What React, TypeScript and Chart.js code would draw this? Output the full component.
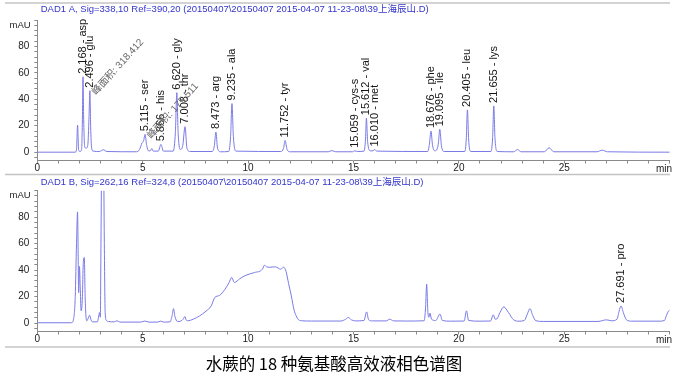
import React, { useEffect, useRef } from "react";
import { Chart, registerables } from "chart.js";

Chart.register(...registerables);

// ---------- data ----------
const titleA = "DAD1 A, Sig=338,10 Ref=390,20 (20150407\\20150407 2015-04-07 11-23-08\\39上海辰山.D)";
const titleB = "DAD1 B, Sig=262,16 Ref=324,8 (20150407\\20150407 2015-04-07 11-23-08\\39上海辰山.D)";
const caption = "水蕨的 18 种氨基酸高效液相色谱图";
const yUnit = "mAU";
const xUnit = "min";
const xMajorTicks = [0, 5, 10, 15, 20, 25];
const yMajorTicks = [0, 20, 40, 60, 80];

// [time (min), signal (mAU)]
const traceA: [number, number][] = [
  [0, 0], [1.8, 0], [1.86, 2], [1.91, 20.5], [1.96, 2], [2.02, 0.5],
  [2.1, 2], [2.14, 25], [2.168, 57], [2.2, 25], [2.25, 4], [2.32, 3],
  [2.4, 6], [2.45, 25], [2.496, 46.5], [2.53, 20], [2.58, 3], [2.65, 0.8],
  [2.95, 0.5], [3.13, 1.8], [3.3, 0.5], [4.7, 0.3], [4.85, 2], [4.97, 7],
  [5.04, 8.5], [5.115, 13.5], [5.18, 6], [5.28, 1], [5.36, 1], [5.43, 2.8],
  [5.5, 0.8], [5.74, 0.8], [5.866, 5.9], [5.98, 0.8], [6.45, 0.8], [6.55, 15],
  [6.62, 45], [6.68, 15], [6.78, 2], [6.9, 5], [7.008, 19.3], [7.1, 3],
  [7.25, 0.5], [8.3, 0.5], [8.4, 5], [8.473, 15.2], [8.55, 3], [8.7, 0.3],
  [9.08, 0.5], [9.17, 12], [9.235, 36.8], [9.3, 12], [9.42, 0.8], [11.55, 0.5],
  [11.68, 3], [11.752, 8.9], [11.85, 2], [12.0, 0.3], [13.8, 0.3], [13.97, 1.2],
  [14.15, 0.3], [14.95, 0.3], [15.059, 1.0], [15.2, 0.5], [15.5, 0.8], [15.57, 10],
  [15.612, 25.7], [15.67, 8], [15.8, 1], [15.92, 1], [16.01, 2], [16.1, 0.8],
  [18.52, 0.5], [18.6, 6], [18.676, 16], [18.75, 5], [18.88, 1], [19.02, 6],
  [19.095, 17.3], [19.17, 5], [19.3, 0.5], [20.28, 0.5], [20.35, 10], [20.405, 32],
  [20.46, 10], [20.56, 0.5], [21.52, 0.5], [21.6, 11], [21.655, 35], [21.71, 11],
  [21.82, 0.5], [22.6, 0.3], [22.78, 2], [22.95, 0.3], [24.05, 0.3], [24.28, 3.3],
  [24.5, 0.3], [26.55, 0.3], [26.8, 1.5], [27.05, 0.3], [30, 0],
];

const traceB: [number, number][] = [
  [0, 0.3], [1.62, 0.3], [1.72, 3], [1.8, 20], [1.86, 60], [1.91, 84],
  [1.94, 50], [1.96, 23], [2.0, 42.8], [2.04, 25], [2.08, 9.3], [2.14, 20],
  [2.18, 45], [2.23, 49.6], [2.27, 20], [2.31, 5], [2.35, 1.7], [2.42, 4],
  [2.48, 6], [2.54, 3], [2.62, 1], [2.85, 1], [2.92, 6], [2.95, 8],
  [2.99, 4.5], [3.02, 60], [3.06, 140], [3.1, 190], [3.14, 140], [3.18, 60],
  [3.22, 8], [3.28, 2], [3.4, 1.2], [3.65, 1], [3.78, 1.8], [3.92, 0.8],
  [4.9, 0.8], [5.1, 1.6], [5.3, 0.8], [5.7, 0.8], [5.85, 1.5], [6.0, 0.8],
  [6.3, 1], [6.4, 6], [6.46, 11], [6.53, 5], [6.65, 1.3], [6.8, 1.5],
  [6.92, 3], [7.0, 5], [7.06, 2.5], [7.12, 1.8], [7.4, 3], [7.7, 5.5],
  [8.0, 9], [8.25, 13], [8.42, 19.4], [8.65, 21], [8.9, 25.5], [9.1, 30.7],
  [9.22, 34.5], [9.35, 30.7], [9.6, 33.5], [9.9, 36.2], [10.3, 38.2], [10.68, 40.7],
  [10.78, 43.8], [10.88, 42.5], [11.0, 42.2], [11.3, 42.5], [11.55, 40.7], [11.68, 42.3],
  [11.8, 39], [11.92, 30], [12.05, 20.6], [12.18, 10], [12.28, 5.5], [12.4, 2.5],
  [12.55, 1.8], [13.0, 1.6], [14.4, 1.6], [14.63, 3], [14.76, 4.3], [14.9, 2.5],
  [15.1, 1.7], [15.5, 2], [15.62, 8.5], [15.72, 2.5], [15.9, 1.7], [16.55, 1.7],
  [16.72, 3], [16.9, 1.7], [17.5, 1.6], [18.35, 1.8], [18.42, 12], [18.47, 29.4],
  [18.53, 8], [18.58, 4.5], [18.63, 7.5], [18.7, 3], [18.9, 2], [19.1, 6.8],
  [19.22, 2], [19.6, 1.5], [20.25, 1.6], [20.36, 9.3], [20.46, 2], [21.0, 1.5],
  [21.5, 1.6], [21.63, 6.3], [21.72, 3], [21.8, 3.2], [21.95, 8], [22.13, 12.3],
  [22.35, 8], [22.6, 2.5], [22.85, 1.5], [23.1, 2], [23.25, 7], [23.37, 11],
  [23.5, 6], [23.65, 1.8], [24.0, 1.3], [26.6, 1.3], [27.0, 2.5], [27.25, 1.8],
  [27.5, 3], [27.6, 9], [27.691, 13], [27.8, 8], [27.95, 2.5], [28.2, 1.5],
  [29.5, 1.5], [29.75, 2], [29.85, 6], [29.95, 9.3], [30, 9.8],
];

const peaksA: [number, string][] = [
  [2.168, "asp"], [2.496, "glu"], [5.115, "ser"], [5.866, "his"], [6.62, "gly"],
  [7.008, "thr"], [8.473, "arg"], [9.235, "ala"], [11.752, "tyr"], [15.059, "cys-s"],
  [15.612, "val"], [16.01, "met"], [18.676, "phe"], [19.095, "ile"], [20.405, "leu"],
  [21.655, "lys"],
];
const peaksB: [number, string][] = [[27.691, "pro"]];

const areaNotesA: [number, string][] = [
  [2.496, "峰面积: 318.412"],
  [5.115, "峰面积: 175.511"],
];
const areaNotesB: [number, string][] = [];

// ---------- styles ----------
const FONT = '"Liberation Sans", Arial, "Noto Sans CJK SC", sans-serif';
const LINE = "#7a7ae6";
const AXIS = "#8a8a8a";
const W = 685;

type Cfg = {
  top: number;
  height: number;
  areaTop: number;
  areaBottom: number;
  trace: [number, number][];
  peaks: [number, string][];
  notes: [number, string][];
  title: string;
  titleY: number;
  seps: number[];
};

function apexValue(trace: [number, number][], t: number) {
  let best = -Infinity;
  for (const [x, v] of trace) if (Math.abs(x - t) <= 0.06 && v > best) best = v;
  return best;
}

function ChromChart(cfg: Cfg) {
  const ref = useRef<HTMLCanvasElement | null>(null);
  useEffect(() => {
    const overlay = {
      id: "overlay",
      afterDraw(chart: any) {
        const { ctx } = chart;
        const xs = chart.scales.x;
        const ys = chart.scales.y;
        ctx.save();
        // separators
        ctx.strokeStyle = "#c4c4c4";
        ctx.lineWidth = 1.5;
        for (const s of cfg.seps) {
          ctx.beginPath();
          ctx.moveTo(5, s);
          ctx.lineTo(670, s);
          ctx.stroke();
        }
        // title
        ctx.font = `9.5px ${FONT}`;
        ctx.fillStyle = "#3434cc";
        ctx.textAlign = "left";
        ctx.textBaseline = "middle";
        ctx.fillText(cfg.title, 40.7, cfg.titleY);
        // units
        ctx.fillStyle = "#222";
        ctx.font = `9.5px ${FONT}`;
        ctx.textAlign = "right";
        ctx.fillText(yUnit, 30.7, ys.top + 5);
        ctx.font = `10px ${FONT}`;
        ctx.textAlign = "left";
        ctx.fillText(xUnit, 656, xs.top + 9);
        // peak labels
        ctx.font = `11px ${FONT}`;
        ctx.fillStyle = "#151515";
        for (const [t, name] of cfg.peaks) {
          const px = xs.getPixelForValue(t);
          const py = ys.getPixelForValue(apexValue(cfg.trace, t)) - 3;
          ctx.save();
          ctx.translate(px, py);
          ctx.rotate(-Math.PI / 2);
          ctx.textAlign = "left";
          ctx.textBaseline = "middle";
          ctx.fillText(`${t.toFixed(3)} - ${name}`, 0, 0);
          ctx.restore();
        }
        // area notes
        ctx.font = `10px ${FONT}`;
        ctx.fillStyle = "#666";
        for (const [t, text] of cfg.notes) {
          const px = xs.getPixelForValue(t);
          const py = ys.getPixelForValue(apexValue(cfg.trace, t));
          ctx.save();
          ctx.translate(px + 4, py + 3);
          ctx.rotate((-48 * Math.PI) / 180);
          ctx.textAlign = "left";
          ctx.textBaseline = "middle";
          ctx.fillText(text, 0, 0);
          ctx.restore();
        }
        ctx.restore();
      },
    };

    const tickFont = { family: FONT, size: 10 };
    const chart = new Chart(ref.current as HTMLCanvasElement, {
      type: "line",
      data: {
        datasets: [
          {
            data: cfg.trace.map(([x, y]) => ({ x, y })),
            borderColor: LINE,
            borderWidth: 1,
            pointRadius: 0,
            fill: false,
            cubicInterpolationMode: "monotone",
          },
        ],
      },
      options: {
        animation: false,
        responsive: false,
        maintainAspectRatio: false,
        events: [],
        layout: { padding: { left: 0, right: W - 669.7, top: cfg.areaTop, bottom: 0 } },
        plugins: { legend: { display: false }, tooltip: { enabled: false }, title: { display: false } },
        scales: {
          x: {
            type: "linear",
            min: 0,
            max: 30,
            ticks: {
              stepSize: 1,
              autoSkip: false,
              maxRotation: 0,
              includeBounds: false,
              font: tickFont,
              color: "#222",
              padding: -1,
              callback: (v: any) => (xMajorTicks.includes(v) ? String(v) : ""),
            },
            grid: { drawOnChartArea: false, drawTicks: true, tickLength: 3, color: AXIS },
            border: { display: true, color: AXIS },
            afterFit: (s: any) => {
              s.height = cfg.height - cfg.areaBottom;
            },
          },
          y: {
            type: "linear",
            min: -6.3,
            max: 100,
            ticks: {
              stepSize: 4,
              autoSkip: false,
              includeBounds: false,
              font: tickFont,
              color: "#222",
              padding: 5,
              callback: (v: any) => (yMajorTicks.includes(v) ? String(v) : ""),
            },
            grid: { drawOnChartArea: false, drawTicks: true, tickLength: 3, color: AXIS },
            border: { display: true, color: AXIS },
            afterFit: (s: any) => {
              s.width = 37.3;
            },
          },
        },
      } as any,
      plugins: [overlay],
    } as any);
    return () => chart.destroy();
  }, []);
  return (
    <canvas
      ref={ref}
      width={W}
      height={cfg.height}
      style={{ position: "absolute", left: 0, top: cfg.top, width: W, height: cfg.height }}
    />
  );
}

export default function App() {
  return (
    <div
      style={{
        position: "fixed",
        left: 0,
        top: 0,
        width: W,
        height: 384,
        background: "#fff",
        overflow: "hidden",
      }}
    >
      <ChromChart
        top={0}
        height={178}
        areaTop={20}
        areaBottom={160.5}
        trace={traceA}
        peaks={peaksA}
        notes={areaNotesA}
        title={titleA}
        titleY={9}
        seps={[3, 174.5]}
      />
      <ChromChart
        top={172}
        height={180}
        areaTop={18.7}
        areaBottom={159.5}
        trace={traceB}
        peaks={peaksB}
        notes={areaNotesB}
        title={titleB}
        titleY={10}
        seps={[175]}
      />
      <div
        style={{
          position: "absolute",
          left: 0,
          top: 352,
          width: 668,
          height: 22,
          lineHeight: "22px",
          textAlign: "center",
          fontFamily: '"Noto Sans CJK SC", sans-serif',
          fontSize: 16.5,
          color: "#000",
        }}
      >
        {caption}
      </div>
    </div>
  );
}
